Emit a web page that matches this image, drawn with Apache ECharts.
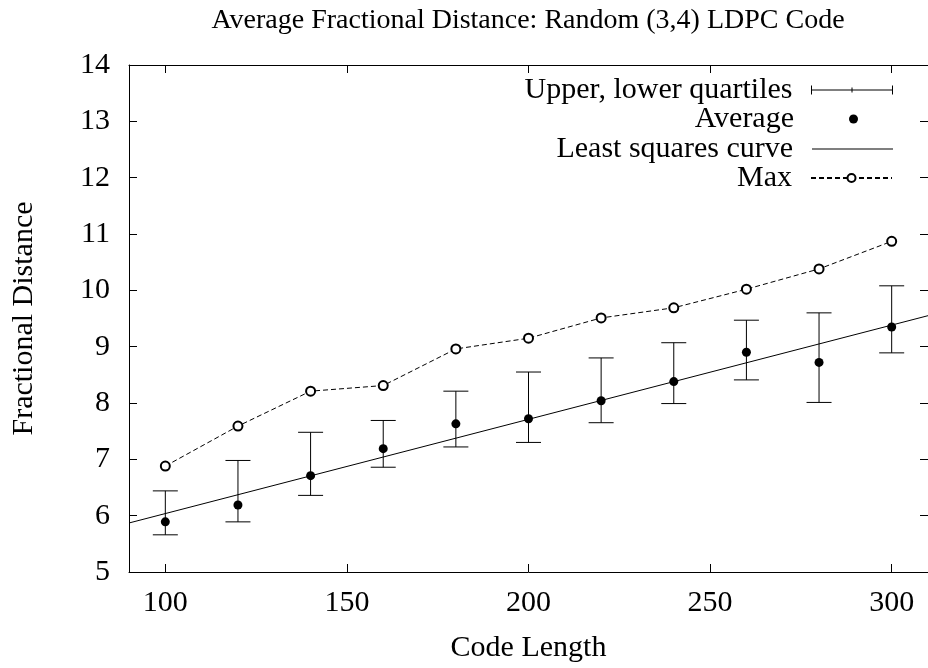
<!DOCTYPE html>
<html>
<head>
<meta charset="utf-8">
<script src="https://cdn.jsdelivr.net/npm/echarts@6/dist/echarts.min.js"></script>
<style>
  html, body { margin: 0; padding: 0; background: #fff; }
  #chart { width: 928px; height: 668px; }
</style>
</head>
<body>
<div id="chart"></div>
<script>
// ---- data ----
const codeLength = [100, 120, 140, 160, 180, 200, 220, 240, 260, 280, 300];
const averageDist = [5.89, 6.19, 6.71, 7.19, 7.63, 7.72, 8.04, 8.38, 8.90, 8.72, 9.35];
const upperQuartile = [6.44, 6.98, 7.48, 7.69, 8.21, 8.55, 8.80, 9.07, 9.47, 9.60, 10.08];
const lowerQuartile = [5.66, 5.89, 6.36, 6.86, 7.22, 7.30, 7.65, 7.99, 8.41, 8.01, 8.89];
const maxDist = [6.88, 7.59, 8.21, 8.31, 8.96, 9.15, 9.51, 9.69, 10.02, 10.38, 10.87];
const fitX = [90, 310];
const fitY = [5.87, 9.55];
const xTicks = [100, 150, 200, 250, 300];

const FONT = 'Liberation Serif';
const FS = 30;

const chart = echarts.init(document.getElementById('chart'), null, { renderer: 'canvas' });

const quartileData = codeLength.map((x, i) => [x, lowerQuartile[i], upperQuartile[i]]);
const avgData = codeLength.map((x, i) => [x, averageDist[i]]);
const maxData = codeLength.map((x, i) => [x, maxDist[i]]);
const fitData = fitX.map((x, i) => [x, fitY[i]]);

const CAP = 12.5;

function legendBox(top, itemHeight, dataItem, extra) {
  return Object.assign({
    show: true,
    orient: 'horizontal',
    align: 'right',
    right: 35,
    top: top,
    padding: 0,
    itemWidth: 81,
    itemHeight: itemHeight,
    selectedMode: false,
    textStyle: { fontFamily: FONT, fontSize: FS, color: '#000', padding: [0, 14, 0, 0] },
    data: [dataItem]
  }, extra || {});
}

const baseXAxis = {
  type: 'value', min: 90, max: 310,
  splitLine: { show: false },
  axisLine: { show: true, onZero: false, lineStyle: { color: '#000', width: 1 } },
  axisTick: { show: true, inside: true, length: 8, customValues: xTicks, lineStyle: { color: '#000' } },
};
const baseYAxis = {
  type: 'value', min: 5, max: 14, interval: 1,
  splitLine: { show: false },
  axisLine: { show: true, onZero: false, lineStyle: { color: '#000', width: 1 } },
  axisTick: { show: true, inside: true, length: 8, lineStyle: { color: '#000' } },
};

const option = {
  animation: false,
  backgroundColor: '#fff',
  title: {
    text: 'Average Fractional Distance: Random (3,4) LDPC Code',
    left: 528, top: 7, padding: 0, textAlign: 'center',
    textStyle: { fontFamily: FONT, fontSize: 28, fontWeight: 'normal', color: '#000' }
  },
  grid: { left: 129, top: 65, width: 801, height: 511, containLabel: false },
  legend: [
    legendBox(75, 9, {
      name: 'Upper, lower quartiles',
      icon: 'path://M0,0L0,9M0,4.5L81,4.5M81,0L81,9M40.5,2L40.5,7',
      itemStyle: { color: 'rgba(0,0,0,0)', borderColor: '#000', borderWidth: 1 }
    }),
    legendBox(104, 9, { name: 'Average', icon: 'circle', itemStyle: { color: '#000', opacity: 1 } }, { right: 70 }),
    legendBox(134, 1, { name: 'Least squares curve', icon: 'rect', itemStyle: { color: '#000', opacity: 1 } }),
    legendBox(163, 10, { name: 'Max' })
  ],
  xAxis: [
    Object.assign({}, baseXAxis, {
      position: 'bottom',
      name: 'Code Length', nameLocation: 'middle', nameGap: 61,
      nameTextStyle: { fontFamily: FONT, fontSize: FS, color: '#000' },
      axisLabel: { show: true, customValues: xTicks, margin: 16, fontFamily: FONT, fontSize: FS, color: '#000' }
    }),
    Object.assign({}, baseXAxis, { position: 'top', axisLabel: { show: false } })
  ],
  yAxis: [
    Object.assign({}, baseYAxis, {
      position: 'left',
      name: 'Fractional Distance', nameLocation: 'middle', nameGap: 90, nameRotate: 90,
      nameTextStyle: { fontFamily: FONT, fontSize: FS, color: '#000' },
      axisLabel: { show: true, margin: 19, fontFamily: FONT, fontSize: FS, color: '#000' }
    }),
    Object.assign({}, baseYAxis, { position: 'right', axisLabel: { show: false } })
  ],
  series: [
    {
      name: 'Upper, lower quartiles',
      type: 'custom',
      xAxisIndex: 0, yAxisIndex: 0,
      data: quartileData,
      itemStyle: { color: '#000' },
      renderItem: function (params, api) {
        const x = api.value(0);
        const lo = api.coord([x, api.value(1)]);
        const hi = api.coord([x, api.value(2)]);
        const st = { stroke: '#000', lineWidth: 1 };
        return {
          type: 'group',
          children: [
            { type: 'line', shape: { x1: lo[0], y1: lo[1], x2: hi[0], y2: hi[1] }, style: st },
            { type: 'line', shape: { x1: lo[0] - CAP, y1: lo[1], x2: lo[0] + CAP, y2: lo[1] }, style: st },
            { type: 'line', shape: { x1: hi[0] - CAP, y1: hi[1], x2: hi[0] + CAP, y2: hi[1] }, style: st }
          ]
        };
      },
      z: 2
    },
    {
      name: 'Least squares curve',
      type: 'line',
      data: fitData,
      showSymbol: false,
      symbol: 'none',
      lineStyle: { color: '#000', width: 1 },
      itemStyle: { color: '#000' },
      clip: true,
      z: 3
    },
    {
      name: 'Max',
      type: 'line',
      data: maxData,
      symbol: 'emptyCircle',
      symbolSize: 9,
      lineStyle: { color: '#000', width: 1, type: [5, 3] },
      itemStyle: { color: '#000', borderColor: '#000', borderWidth: 1 },
      z: 4
    },
    {
      name: 'Average',
      type: 'scatter',
      data: avgData,
      symbol: 'circle',
      symbolSize: 9,
      itemStyle: { color: '#000', opacity: 1 },
      z: 5
    }
  ]
};

chart.setOption(option);
</script>
</body>
</html>
